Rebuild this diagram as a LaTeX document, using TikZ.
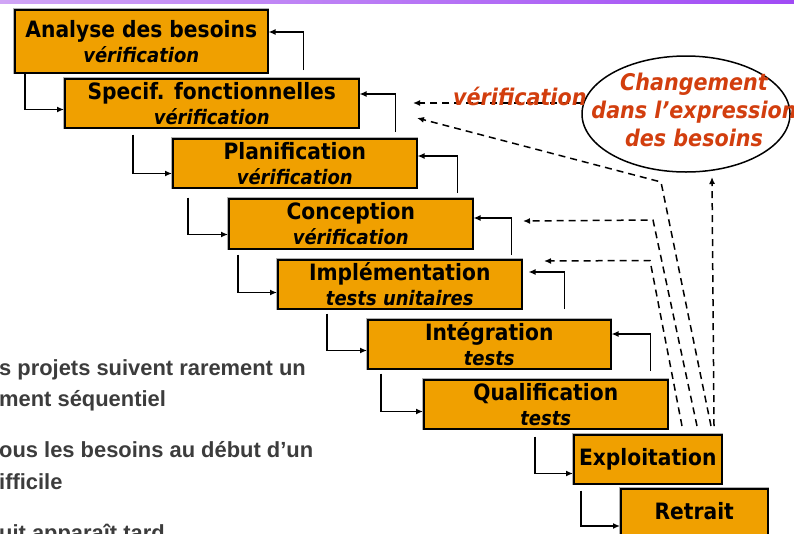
\documentclass[tikz,border=0pt]{standalone}
\usepackage{fontspec}
\usetikzlibrary{arrows.meta,shapes.geometric,calc}
\newfontfamily\boxfont[FakeStretch=0.9]{DejaVu Sans}
\newfontfamily\notefont{Liberation Sans}
\definecolor{stepfill}{RGB}{240,160,0}
\definecolor{alertred}{RGB}{210,62,14}
\definecolor{notegrey}{RGB}{60,60,60}
\definecolor{barleft}{RGB}{208,165,245}
\definecolor{barright}{RGB}{160,75,245}
% second (italic) line inside a phase box
\newcommand\phasesub[1]{{\fontsize{20}{25}\selectfont\itshape #1}}

\begin{document}
\begin{tikzpicture}[x=1pt,y=-1pt,
  phase/.style={draw=black, line width=1.5pt, fill=stepfill, anchor=north west,
    inner sep=0pt, align=center,
    font=\boxfont\bfseries\fontsize{22.5}{25}\selectfont,
    preaction={draw=black!30, line width=3pt}},
  oneline/.style={text height=17pt, text depth=5.5pt},
  flow/.style={draw=black, line width=1.5pt, -{Latex[length=7pt,width=6pt]}},
  recheck/.style={draw=black, line width=1.5pt, dash pattern=on 7pt off 5pt,
    -{Latex[length=7pt,width=6pt]}},
  alert/.style={text=alertred, inner sep=0pt,
    font=\boxfont\bfseries\itshape\fontsize{23}{28}\selectfont},
  note/.style={text=notegrey, inner sep=0pt, anchor=base west,
    font=\notefont\bfseries\fontsize{21.9}{26}\selectfont}
]
\useasboundingbox (0,0) rectangle (794,533);

% title bar
\shade[left color=barleft, right color=barright] (0,0) rectangle (794,3);

% waterfall phases
\node[phase, minimum width=253pt, minimum height=63pt] (ana) at (14,9)
  {Analyse des besoins\\\phasesub{vérification}};
\node[phase, minimum width=294pt, minimum height=49pt] (spe) at (64,78)
  {Specif. fonctionnelles\\\phasesub{vérification}};
\node[phase, minimum width=244pt, minimum height=49pt] (pla) at (172,138)
  {Planification\\\phasesub{vérification}};
\node[phase, minimum width=244pt, minimum height=50pt] (con) at (228,198)
  {Conception\\\phasesub{vérification}};
\node[phase, minimum width=244pt, minimum height=49pt] (imp) at (277,259)
  {Implémentation\\\phasesub{tests unitaires}};
\node[phase, minimum width=243pt, minimum height=49pt] (int) at (367,319)
  {Intégration\\\phasesub{tests}};
\node[phase, minimum width=244pt, minimum height=49pt] (qua) at (423,379)
  {Qualification\\\phasesub{tests}};
\node[phase, oneline, minimum width=148pt, minimum height=49pt] (exp) at (573,434)
  {Exploitation};
\node[phase, oneline, minimum width=147pt, minimum height=49pt] (ret) at (620,488)
  {Retrait};

% forward flow
\draw[flow] ([xshift=11pt]ana.south west) |- ([yshift=19pt]spe.south west);
\draw[flow] ([xshift=69pt,yshift=-6pt]spe.south west) |- ([yshift=15pt]pla.south west);
\draw[flow] ([xshift=16pt,yshift=-9pt]pla.south west) |- ([yshift=15pt]con.south west);
\draw[flow] ([xshift=10pt,yshift=-5pt]con.south west) |- ([yshift=17pt]imp.south west);
\draw[flow] ([xshift=50pt,yshift=-4pt]imp.south west) |- ([yshift=19pt]int.south west);
\draw[flow] ([xshift=14pt,yshift=-4pt]int.south west) |- ([yshift=18pt]qua.south west);
\draw[flow] ([xshift=112pt,yshift=-7pt]qua.south west) |- ([yshift=11pt]exp.south west);
\draw[flow] ([xshift=8pt,yshift=-6pt]exp.south west) |- ([yshift=-38pt]ret.north west);

% feedback to the previous phase
\draw[flow] ($(ana.east |- spe.north)+(35,-8)$) |- ([yshift=-23pt]ana.north east);
\draw[flow] ($(spe.east |- pla.north)+(36,-6)$) |- ([yshift=-16pt]spe.north east);
\draw[flow] ($(pla.east |- con.north)+(40,-5)$) |- ([yshift=-18pt]pla.north east);
\draw[flow] ($(con.east |- imp.north)+(38,-4)$) |- ([yshift=-20pt]con.north east);
\draw[flow, shorten >=6pt] ($(imp.east |- int.north)+(42,-10)$) |- ([yshift=-13pt]imp.north east);
\draw[flow] ($(int.east |- qua.north)+(39,-8)$) |- ([yshift=-15pt]int.north east);

% change in requirements
\node[draw, ellipse, line width=1.5pt, minimum width=208pt, minimum height=116pt,
  inner sep=0pt] (chg) at (686,114) {};
\node[alert, align=center] (chgtext) at (694,110)
  {Changement\\dans l’expression\\des besoins};

% dashed feedback from operation
\coordinate (fa) at ([xshift=109pt,yshift=8pt]exp.north west);
\coordinate (fb) at ([xshift=124pt,yshift=8pt]exp.north west);
\coordinate (fc) at ([xshift=138pt,yshift=8pt]exp.north west);
\coordinate (fd) at ([xshift=141pt,yshift=8pt]exp.north west);
\coordinate (ta) at (544,261);
\coordinate (tb) at (523,221);
\coordinate (tc) at (417,118);
\coordinate (td) at (712,177);
\coordinate (tv) at (413,103);
\draw[recheck] (fa) -- (650,260.5) -- (ta);
\draw[recheck] (fb) -- (653,220) -- (tb);
\draw[recheck] (fc) -- (661,182) -- (tc);
\draw[recheck] (fd) -- (td);
\draw[recheck] (chg.west |- tv) -- (tv);
\node[alert, anchor=base west] (verif) at (453,105) {vérification};

% side notes
\node[note] (n1) at (-1,375) {s projets suivent rarement un};
\node[note] (n2) at (-1,406.7) {ment séquentiel};
\node[note] (n3) at (-1,457.3) {ous les besoins au début d’un};
\node[note] (n4) at (-1,489.3) {ifficile};
\node[note] (n5) at (-1,540.7) {uit apparaît tard};
\end{tikzpicture}
\end{document}
